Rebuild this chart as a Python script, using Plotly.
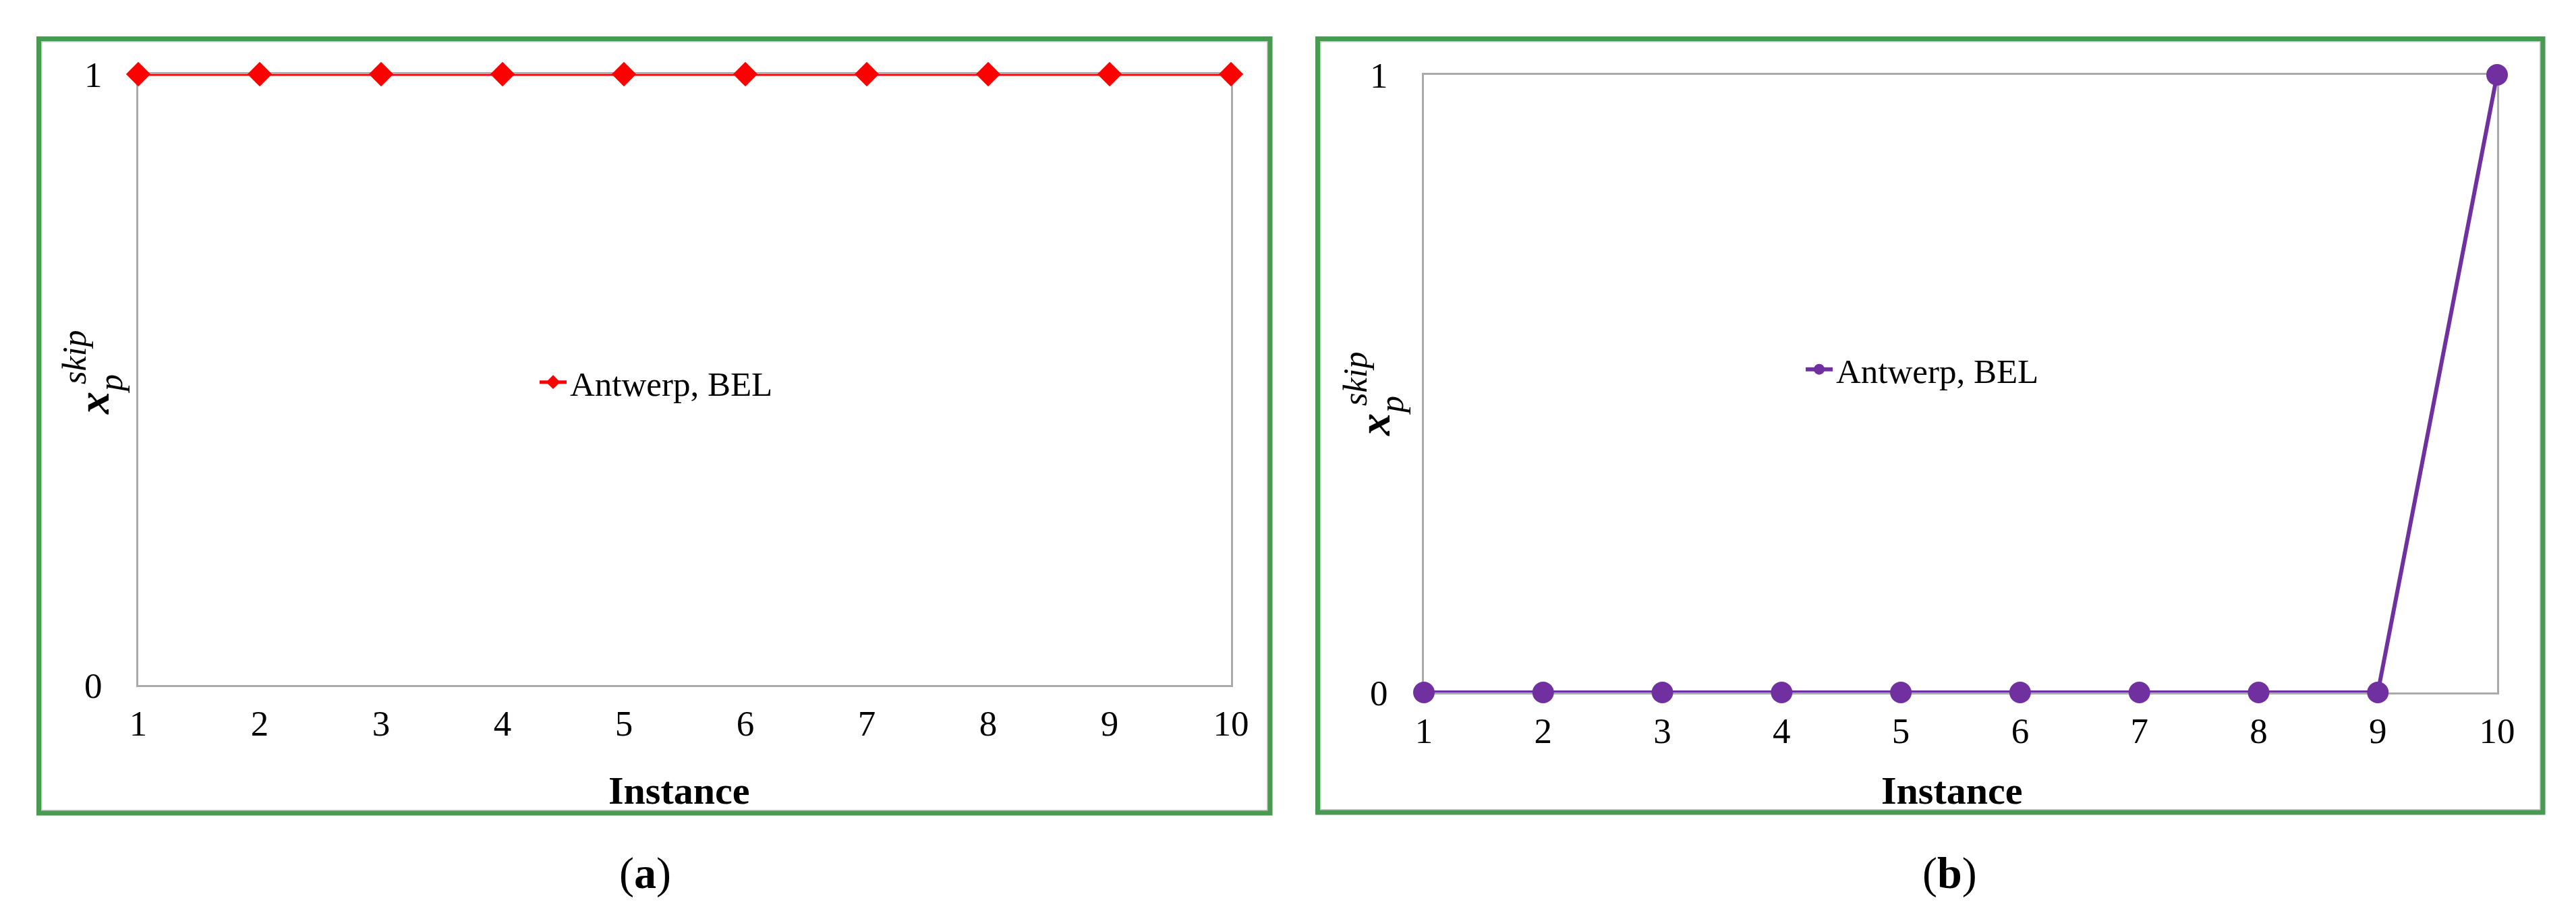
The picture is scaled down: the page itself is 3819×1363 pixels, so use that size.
import plotly.graph_objects as go

# data
instances = [1, 2, 3, 4, 5, 6, 7, 8, 9, 10]
skip_a = [1, 1, 1, 1, 1, 1, 1, 1, 1, 1]
skip_b = [0, 0, 0, 0, 0, 0, 0, 0, 0, 1]
y_ticks = [0, 1]
series_name = 'Antwerp, BEL'
x_title = 'Instance'
captions = ['a', 'b']

W, H = 3819, 1363
OFF = 8  # page body margin
SERIF = 'Liberation Serif'


def px(x):
    return (x - OFF) / W


def py(y):
    return (H - (y - OFF)) / H


fig = go.Figure()

fig.add_trace(go.Scatter(x=instances, y=skip_a, mode='lines+markers', name=series_name,
                         line=dict(color='#ff0000', width=5),
                         marker=dict(symbol='diamond', size=28, color='#ff0000'),
                         cliponaxis=False, xaxis='x', yaxis='y', legend='legend'))
fig.add_trace(go.Scatter(x=instances, y=skip_b, mode='lines+markers', name=series_name,
                         line=dict(color='#7030a0', width=6),
                         marker=dict(symbol='circle', size=32, color='#7030a0'),
                         cliponaxis=False, xaxis='x2', yaxis='y2', legend='legend2'))

# plot areas (pixels)
plot_a = dict(x0=205, x1=1825, y0=110, y1=1016)
plot_b = dict(x0=2111, x1=3702, y0=111, y1=1027)

tickfont = dict(family=SERIF, size=53, color='black')
axis_common = dict(showgrid=False, zeroline=False, showline=True, linecolor='#aaaaaa',
                   linewidth=3, mirror=True, ticks='', tickfont=tickfont,
                   layer='below traces', automargin=False)


def xaxis(p, anchor):
    return dict(axis_common, domain=[px(p['x0']), px(p['x1'])], range=[1, 10],
                tickvals=instances, anchor=anchor, ticklabelstandoff=8)


def yaxis(p, anchor):
    return dict(axis_common, domain=[py(p['y1']), py(p['y0'])], range=[0, 1],
                tickvals=y_ticks, anchor=anchor, ticklabelstandoff=40)


legend_common = dict(font=dict(family=SERIF, size=51, color='black'), bgcolor='rgba(0,0,0,0)',
                     xanchor='left', yanchor='middle', itemwidth=40)

fig.update_layout(
    width=W, height=H, margin=dict(l=0, r=0, t=0, b=0, autoexpand=False),
    paper_bgcolor='white', plot_bgcolor='white', showlegend=True,
    xaxis=xaxis(plot_a, 'y'), yaxis=yaxis(plot_a, 'x'),
    xaxis2=xaxis(plot_b, 'y2'), yaxis2=yaxis(plot_b, 'x2'),
    legend=dict(legend_common, x=px(795), y=py(567)),
    legend2=dict(legend_common, x=px(2672), y=py(548)),
)

# green frames round each panel, with the thin grey chart-area border inside
frames = [(57.5, 1883, 57.5, 1206), (1953.5, 3770, 57.5, 1205)]
for x0, x1, y0, y1 in frames:
    fig.add_shape(type='rect', xref='paper', yref='paper', x0=px(x0 + 4), x1=px(x1 - 4),
                  y0=py(y1 - 4), y1=py(y0 + 4), line=dict(color='#c8c8c8', width=2))
    fig.add_shape(type='rect', xref='paper', yref='paper', x0=px(x0), x1=px(x1),
                  y0=py(y1), y1=py(y0), line=dict(color='#479a4f', width=7))


def label(text, x, y, size, angle=0):
    fig.add_annotation(text=text, x=px(x), y=py(y), xref='paper', yref='paper',
                       xanchor='center', yanchor='middle', textangle=angle, showarrow=False,
                       font=dict(family=SERIF, size=size, color='black'))


# y-axis label x_p^skip, drawn in three pieces so sub and sup stack
for dx, dy in [(0, 0), (1899, 32)]:
    label('<b><i>x</i></b>', 138 + dx, 598 + dy, 66, -90)
    label('<i>skip</i>', 110 + dx, 530 + dy, 50, -90)
    label('<i>p</i>', 164 + dx, 569 + dy, 50, -90)

# x-axis titles and panel captions
for cx, cap, tx in [(1006, captions[0], 956), (2893, captions[1], 2890)]:
    label('<b>%s</b>' % x_title, cx, 1172, 58)
    label('(<b>%s</b>)' % cap, tx, 1295, 66)

fig.write_html('out.html')
